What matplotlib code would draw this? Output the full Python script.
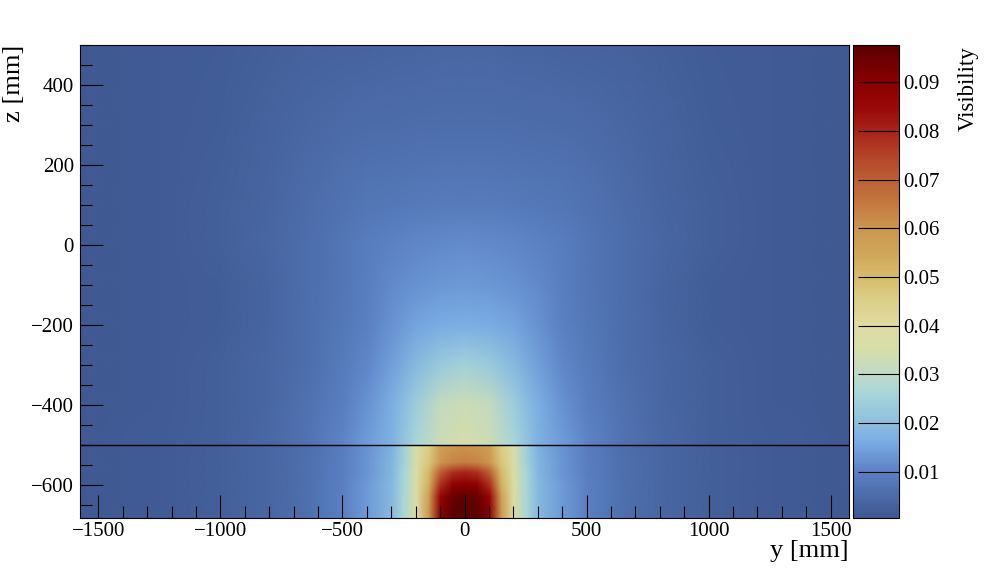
import numpy as np
import matplotlib
matplotlib.use("Agg")
import matplotlib.pyplot as plt
from matplotlib.colors import LinearSegmentedColormap, Normalize
from matplotlib.image import NonUniformImage
from matplotlib.patches import Rectangle
from matplotlib.cm import ScalarMappable

plt.rcParams['font.family'] = ['Liberation Serif', 'DejaVu Serif']

# ---------------- data ----------------
# region above the boundary line (z from -500 to 500)
y_upper = [-1575, -1250, -1000, -800, -650, -500, -400, -300, -200, -100, 0,
           100, 200, 300, 400, 500, 650, 800, 1000, 1250, 1575]
z_upper = [-500, -400, -300, -200, -100, 0, 100, 300, 500]
vis_upper = [
    [0.0012, 0.0017, 0.0027, 0.0045, 0.0068, 0.0105, 0.014, 0.0175, 0.026, 0.033, 0.036,
     0.033, 0.026, 0.0175, 0.014, 0.0105, 0.0068, 0.0045, 0.0027, 0.0017, 0.0012],
    [0.0012, 0.0016, 0.0025, 0.0042, 0.0062, 0.0093, 0.0125, 0.0165, 0.024, 0.031, 0.033,
     0.031, 0.024, 0.0165, 0.0125, 0.0093, 0.0062, 0.0042, 0.0025, 0.0016, 0.0012],
    [0.0012, 0.0015, 0.0024, 0.0040, 0.0058, 0.0085, 0.011, 0.0145, 0.019, 0.023, 0.025,
     0.023, 0.019, 0.0145, 0.011, 0.0085, 0.0058, 0.0040, 0.0024, 0.0015, 0.0012],
    [0.0012, 0.0015, 0.0022, 0.0038, 0.0055, 0.0078, 0.0097, 0.0125, 0.015, 0.0162, 0.0168,
     0.0162, 0.015, 0.0125, 0.0097, 0.0078, 0.0055, 0.0038, 0.0022, 0.0015, 0.0012],
    [0.0012, 0.0015, 0.0023, 0.0039, 0.0056, 0.0076, 0.0093, 0.0112, 0.0125, 0.0132, 0.0135,
     0.0132, 0.0125, 0.0112, 0.0093, 0.0076, 0.0056, 0.0039, 0.0023, 0.0015, 0.0012],
    [0.0012, 0.0016, 0.0025, 0.0040, 0.0057, 0.0075, 0.0089, 0.0100, 0.0108, 0.0115, 0.0118,
     0.0115, 0.0108, 0.0100, 0.0089, 0.0075, 0.0057, 0.0040, 0.0025, 0.0016, 0.0012],
    [0.0012, 0.0016, 0.0025, 0.0039, 0.0053, 0.0066, 0.0074, 0.0080, 0.0084, 0.0087, 0.0088,
     0.0087, 0.0084, 0.0080, 0.0074, 0.0066, 0.0053, 0.0039, 0.0025, 0.0016, 0.0012],
    [0.0012, 0.0015, 0.0022, 0.0032, 0.0040, 0.0047, 0.0051, 0.0054, 0.0056, 0.0058, 0.0058,
     0.0058, 0.0056, 0.0054, 0.0051, 0.0047, 0.0040, 0.0032, 0.0022, 0.0015, 0.0012],
    [0.0011, 0.0014, 0.0019, 0.0025, 0.0029, 0.0033, 0.0035, 0.0037, 0.0039, 0.0040, 0.0040,
     0.0040, 0.0039, 0.0037, 0.0035, 0.0033, 0.0029, 0.0025, 0.0019, 0.0014, 0.0011],
]

# region below the boundary line (z from -683 to -500)
y_lower = [-1575, -1250, -1000, -800, -650, -500, -400, -300, -250, -200, -150, -100, -50, 0,
           50, 100, 150, 200, 250, 300, 400, 500, 650, 800, 1000, 1250, 1575]
z_lower = [-683, -660, -630, -600, -570, -545, -500]
vis_lower = [
    [0.0012, 0.0016, 0.0026, 0.0042, 0.0060, 0.0098, 0.0135, 0.019, 0.027, 0.038, 0.058, 0.090, 0.097, 0.097,
     0.097, 0.090, 0.058, 0.038, 0.027, 0.019, 0.0135, 0.0098, 0.0060, 0.0042, 0.0026, 0.0016, 0.0012],
    [0.0012, 0.0016, 0.0026, 0.0042, 0.0060, 0.0098, 0.0135, 0.019, 0.027, 0.038, 0.058, 0.089, 0.097, 0.097,
     0.097, 0.089, 0.058, 0.038, 0.027, 0.019, 0.0135, 0.0098, 0.0060, 0.0042, 0.0026, 0.0016, 0.0012],
    [0.0012, 0.0016, 0.0026, 0.0042, 0.0060, 0.0098, 0.0135, 0.019, 0.027, 0.038, 0.056, 0.086, 0.095, 0.096,
     0.095, 0.086, 0.056, 0.038, 0.027, 0.019, 0.0135, 0.0098, 0.0060, 0.0042, 0.0026, 0.0016, 0.0012],
    [0.0012, 0.0016, 0.0026, 0.0042, 0.0060, 0.0098, 0.0135, 0.019, 0.026, 0.037, 0.052, 0.078, 0.088, 0.090,
     0.088, 0.078, 0.052, 0.037, 0.026, 0.019, 0.0135, 0.0098, 0.0060, 0.0042, 0.0026, 0.0016, 0.0012],
    [0.0012, 0.0016, 0.0026, 0.0042, 0.0060, 0.0095, 0.0130, 0.018, 0.026, 0.037, 0.050, 0.070, 0.078, 0.080,
     0.078, 0.070, 0.050, 0.037, 0.026, 0.018, 0.0130, 0.0095, 0.0060, 0.0042, 0.0026, 0.0016, 0.0012],
    [0.0012, 0.0016, 0.0026, 0.0042, 0.0060, 0.0095, 0.0130, 0.018, 0.025, 0.036, 0.047, 0.060, 0.063, 0.064,
     0.063, 0.060, 0.047, 0.036, 0.025, 0.018, 0.0130, 0.0095, 0.0060, 0.0042, 0.0026, 0.0016, 0.0012],
    [0.0012, 0.0016, 0.0025, 0.0041, 0.0058, 0.0092, 0.0125, 0.017, 0.025, 0.035, 0.045, 0.057, 0.059, 0.059,
     0.059, 0.057, 0.045, 0.035, 0.025, 0.017, 0.0125, 0.0092, 0.0058, 0.0041, 0.0025, 0.0016, 0.0012],
]

boundary_z = -500
x_range = (-1575, 1575)
z_range = (-683, 500)
vis_range = (0.0005, 0.0977)
cbar_ticks = [0.01, 0.02, 0.03, 0.04, 0.05, 0.06, 0.07, 0.08, 0.09]
cbar_ticklabels = ["0.01", "0.02", "0.03", "0.04", "0.05", "0.06", "0.07", "0.08", "0.09"]

# ---------------- colormap ----------------
stop_vals = [0.0005, 0.01, 0.016, 0.02, 0.026, 0.03, 0.035, 0.04, 0.045, 0.05, 0.055,
             0.06, 0.065, 0.07, 0.075, 0.08, 0.085, 0.09, 0.0977]
stop_cols = ["#3e5891", "#5c82c4", "#7aace4", "#8cc0de", "#a8d6da", "#c0dac6", "#d6deaa",
             "#e0dca0", "#dcd08a", "#d6bc68", "#d0a658", "#cc9650", "#c47a40", "#bc6034",
             "#b44428", "#a8241a", "#980808", "#8c0000", "#5a0000"]
vmin, vmax = vis_range
pos = [(v - vmin) / (vmax - vmin) for v in stop_vals]
cmap = LinearSegmentedColormap.from_list("vis", list(zip(pos, stop_cols)), N=256)
norm = Normalize(vmin=vmin, vmax=vmax)

# ---------------- figure ----------------
W, H = 998, 576
fig = plt.figure(figsize=(W / 100, H / 100), dpi=100)
ax = fig.add_axes([80 / W, 1 - 518 / H, 769 / W, 473 / H])
ax.set_xlim(*x_range)
ax.set_ylim(*z_range)

im_up = NonUniformImage(ax, interpolation='bilinear', cmap=cmap, norm=norm,
                        extent=(x_range[0], x_range[1], boundary_z, z_range[1]))
im_up.set_data(np.array(y_upper, float), np.array(z_upper, float), np.array(vis_upper))
ax.add_image(im_up)
im_up.set_clip_path(Rectangle((x_range[0], boundary_z), x_range[1] - x_range[0],
                              z_range[1] - boundary_z, transform=ax.transData))

im_lo = NonUniformImage(ax, interpolation='bilinear', cmap=cmap, norm=norm,
                        extent=(x_range[0], x_range[1], z_range[0], boundary_z))
im_lo.set_data(np.array(y_lower, float), np.array(z_lower, float), np.array(vis_lower))
ax.add_image(im_lo)
im_lo.set_clip_path(Rectangle((x_range[0], z_range[0]), x_range[1] - x_range[0],
                              boundary_z - z_range[0], transform=ax.transData))

ax.set_xlim(*x_range)
ax.set_ylim(*z_range)

ax.axhline(boundary_z, color='black', lw=1.0, zorder=5)

for s in ax.spines.values():
    s.set_linewidth(0.8)
    s.set_zorder(6)

ax.set_xticks([-1500, -1000, -500, 0, 500, 1000, 1500])
ax.set_xticks(np.arange(-1500, 1501, 100), minor=True)
ax.set_yticks([-600, -400, -200, 0, 200, 400])
ax.set_yticks(np.arange(-650, 501, 50), minor=True)
ax.tick_params(axis='both', which='both', direction='in', top=False, right=False,
               width=0.8, labelsize=15, color='black')
ax.tick_params(axis='both', which='major', length=16.5)
ax.tick_params(axis='both', which='minor', length=8.5)
ax.tick_params(axis='x', which='major', pad=3)
ax.tick_params(axis='y', which='major', pad=4.5)

# ---------------- colorbar ----------------
cax = fig.add_axes([853 / W, 1 - 518 / H, 46 / W, 473 / H])
sm = ScalarMappable(norm=norm, cmap=cmap)
cb = fig.colorbar(sm, cax=cax)
cb.outline.set_linewidth(0.8)
cb.set_ticks(cbar_ticks)
cb.set_ticklabels(cbar_ticklabels)
cax.tick_params(axis='y', which='major', direction='in', length=29.5, width=0.8,
                labelsize=15, pad=3)
cax.minorticks_off()

# ---------------- labels ----------------
fig.text(849 / W, 1 - 557 / H, "y [mm]", ha='right', va='baseline', fontsize=19)
fig.text(14 / W, 1 - 45 / H, "z [mm]", rotation=90, ha='center', va='top', fontsize=19)
fig.text(968 / W, 1 - 46 / H, "Visibility", rotation=90, ha='center', va='top', fontsize=16.5)

fig.savefig("out.png", dpi=100)
